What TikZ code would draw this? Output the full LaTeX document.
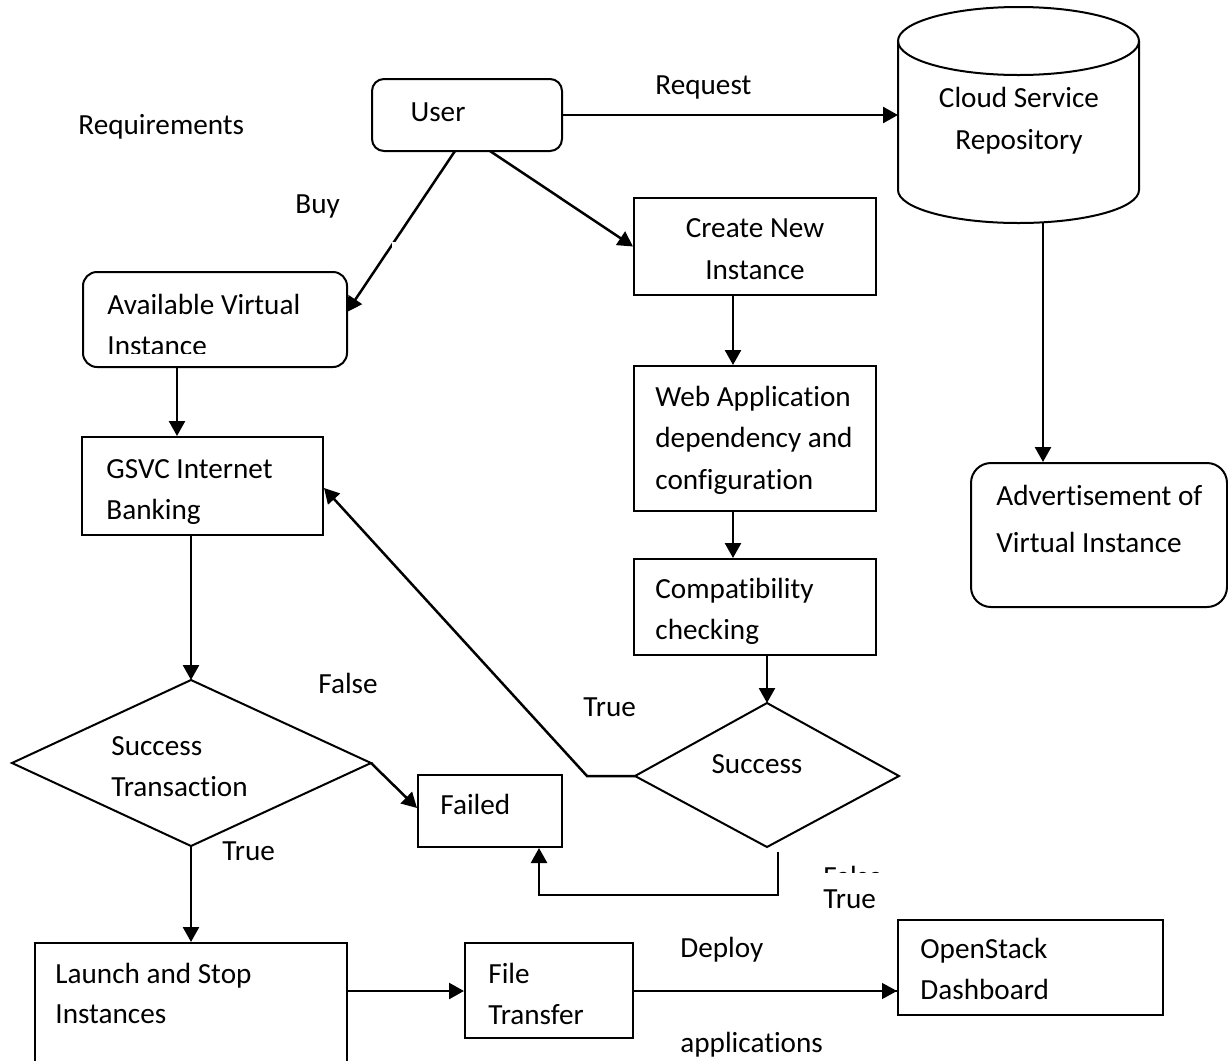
\documentclass[tikz,border=0pt]{standalone}
\usepackage{fontspec}
\setmainfont{Carlito}[Ligatures=NoCommon]
\usetikzlibrary{arrows.meta,fit,calc}
\begin{document}
\begin{tikzpicture}[x=0.5pt,y=-0.5pt,
  box/.style={draw, line width=1pt, inner sep=0pt},
  rbox/.style={box, rounded corners=6pt},
  lbl/.style={anchor=base west, inner sep=0pt, font=\fontsize{14.6}{18}\selectfont},
  clbl/.style={anchor=base, inner sep=0pt, font=\fontsize{14.6}{18}\selectfont},
  arr/.style={line width=1.25pt, -{Triangle[length=7.5pt,width=8pt]}},
  ln/.style={line width=1pt}]
\clip (0,0) rectangle (1228,1061);
\fill[white] (0,0) rectangle (1228,1061);

% boxes
\node[rbox, fit={(372,79) (562,151)}] (user) {};
\node[rbox, rounded corners=7pt, fit={(83,272) (347,367)}] (avail) {};
\node[box, fit={(634,198) (876,295)}] (create) {};
\node[box, fit={(634,366) (876,511)}] (web) {};
\node[box, fit={(634,559) (876,655)}] (compat) {};
\node[box, fit={(82,437) (323,535)}] (gsvc) {};
\node[box, fit={(418,775) (562,847)}] (failed) {};
\node[box, fit={(35,943) (347,1080)}] (launch) {};
\node[box, fit={(465,943) (633,1038)}] (file) {};
\node[box, fit={(898,920) (1163,1015)}] (os) {};
\node[rbox, rounded corners=10pt, fit={(971,463) (1227,607)}] (adv) {};

% cylinder
\node[inner sep=0pt, fit={(898,7) (1139,223)}] (cyl) {};
\draw[ln] (1018.5,41) ellipse [x radius=60.25pt, y radius=17pt];
\draw[ln] (898,41) -- (898,190) arc[start angle=180,end angle=360,x radius=60.25pt,y radius=16.5pt] -- (1139,41);
\coordinate (cylW) at (898,115);
\coordinate (cylS) at (1043,222);

% diamonds
\coordinate (d1t) at (191,680); \coordinate (d1l) at (12,763);
\coordinate (d1r) at (371,763); \coordinate (d1b) at (191,846);
\draw[ln] (d1t) -- (d1r) -- (d1b) -- (d1l) -- cycle;
\coordinate (d2t) at (767,703); \coordinate (d2l) at (635,776);
\coordinate (d2r) at (899,776); \coordinate (d2b) at (767,847);
\draw[ln] (d2t) -- (d2r) -- (d2b) -- (d2l) -- cycle;

% helper coordinates
\coordinate (ub1) at (455,151); \coordinate (av1) at (347,312);
\coordinate (ub2) at (490,151);
\coordinate (cx1) at (733,0); \coordinate (cx2) at (767,0);
\coordinate (cx3) at (1043,0); \coordinate (cx4) at (177,0);
\coordinate (fw) at (0,808); \coordinate (ry) at (0,991);
\coordinate (bend) at (587,776); \coordinate (gy) at (0,488);
\coordinate (d2o) at (778,852); \coordinate (d2bb) at (778,895);
\coordinate (fx) at (539,0);

% connectors
\draw[arr] (user.east) -- (cylW);
\draw[arr] (ub1) -- (av1);
\fill[white] (392,242) rectangle (398,250);
\draw[arr] (ub2) -- (create.west);
\draw[arr] (create.south -| cx1) -- (web.north -| cx1);
\draw[arr] (web.south -| cx1) -- (compat.north -| cx1);
\draw[arr] (compat.south -| cx2) -- (d2t);
\draw[arr] (cylS) -- (adv.north -| cx3);
\draw[arr] (avail.south -| cx4) -- (gsvc.north -| cx4);
\draw[arr] (gsvc.south -| d1t) -- (d1t);
\draw[arr] (d1r) -- (failed.west |- fw);
\draw[arr] (d1b) -- (launch.north -| d1b);
\draw[arr] (launch.east |- ry) -- (file.west |- ry);
\draw[arr, line width=0.6pt] (file.east |- ry) -- (os.west |- ry);
\draw[line width=1.25pt] (file.east |- ry) -- ++(26,0);
\draw[line width=1.25pt] (os.west |- ry) -- ++(-48,0);
\draw[arr] (d2l) -- (bend) -- (gsvc.east |- gy);
\draw[arr] (d2o) -- (d2bb) -- (d2bb -| fx) -- (failed.south -| fx);

% labels
\node[lbl] (tReq) at (78,134) {Requirements};
\node[clbl] (tUser) at (438,121) {User};
\node[lbl] (tRequest) at (655,94) {Request};
\node[clbl] (tCloud1) at (1019,107) {Cloud Service};
\node[clbl] (tCloud2) at (1019,149) {Repository};
\node[lbl] (tBuy) at (295,213) {Buy};
\node[lbl] (tAv1) at (107,314) {Available Virtual};
\begin{scope}
\clip (90,320) rectangle (340,353);
\node[lbl] (tAv2) at (107,355) {Instance};
\end{scope}
\node[clbl] (tCr1) at (755,237) {Create New};
\node[clbl] (tCr2) at (755,279) {Instance};
\node[lbl] (tWeb1) at (655,406) {Web Application};
\node[lbl] (tWeb2) at (655,447) {dependency and};
\node[lbl] (tWeb3) at (655,489) {configuration};
\node[lbl] (tCo1) at (655,598) {Compatibility};
\node[lbl] (tCo2) at (655,639) {checking};
\node[lbl] (tG1) at (106,478) {GSVC Internet};
\node[lbl] (tG2) at (106,519) {Banking};
\node[lbl] (tAd1) at (996,505) {Advertisement of};
\node[lbl] (tAd2) at (996,552) {Virtual Instance};
\node[lbl] (tS1) at (111,755) {Success};
\node[lbl] (tS2) at (111,796) {Transaction};
\node[lbl] (tF1) at (318,693) {False};
\node[lbl] (tT1) at (583,716) {True};
\node[clbl] (tS3) at (757,773) {Success};
\node[lbl] (tFailed) at (440,814) {Failed};
\node[lbl] (tT2) at (222,860) {True};
\begin{scope}
\clip (800,855) rectangle (900,872);
\node[lbl] (tF2) at (823,886) {False};
\end{scope}
\node[lbl] (tT3) at (823,908) {True};
\node[lbl] (tL1) at (55,983) {Launch and Stop};
\node[lbl] (tL2) at (55,1023) {Instances};
\node[lbl] (tFi1) at (488,983) {File};
\node[lbl] (tFi2) at (488,1024) {Transfer};
\node[lbl] (tDep) at (680,957) {Deploy};
\node[lbl] (tApp) at (680,1052) {applications};
\node[lbl] (tOs1) at (920,958) {OpenStack};
\node[lbl] (tOs2) at (920,999) {Dashboard};
\end{tikzpicture}
\end{document}
